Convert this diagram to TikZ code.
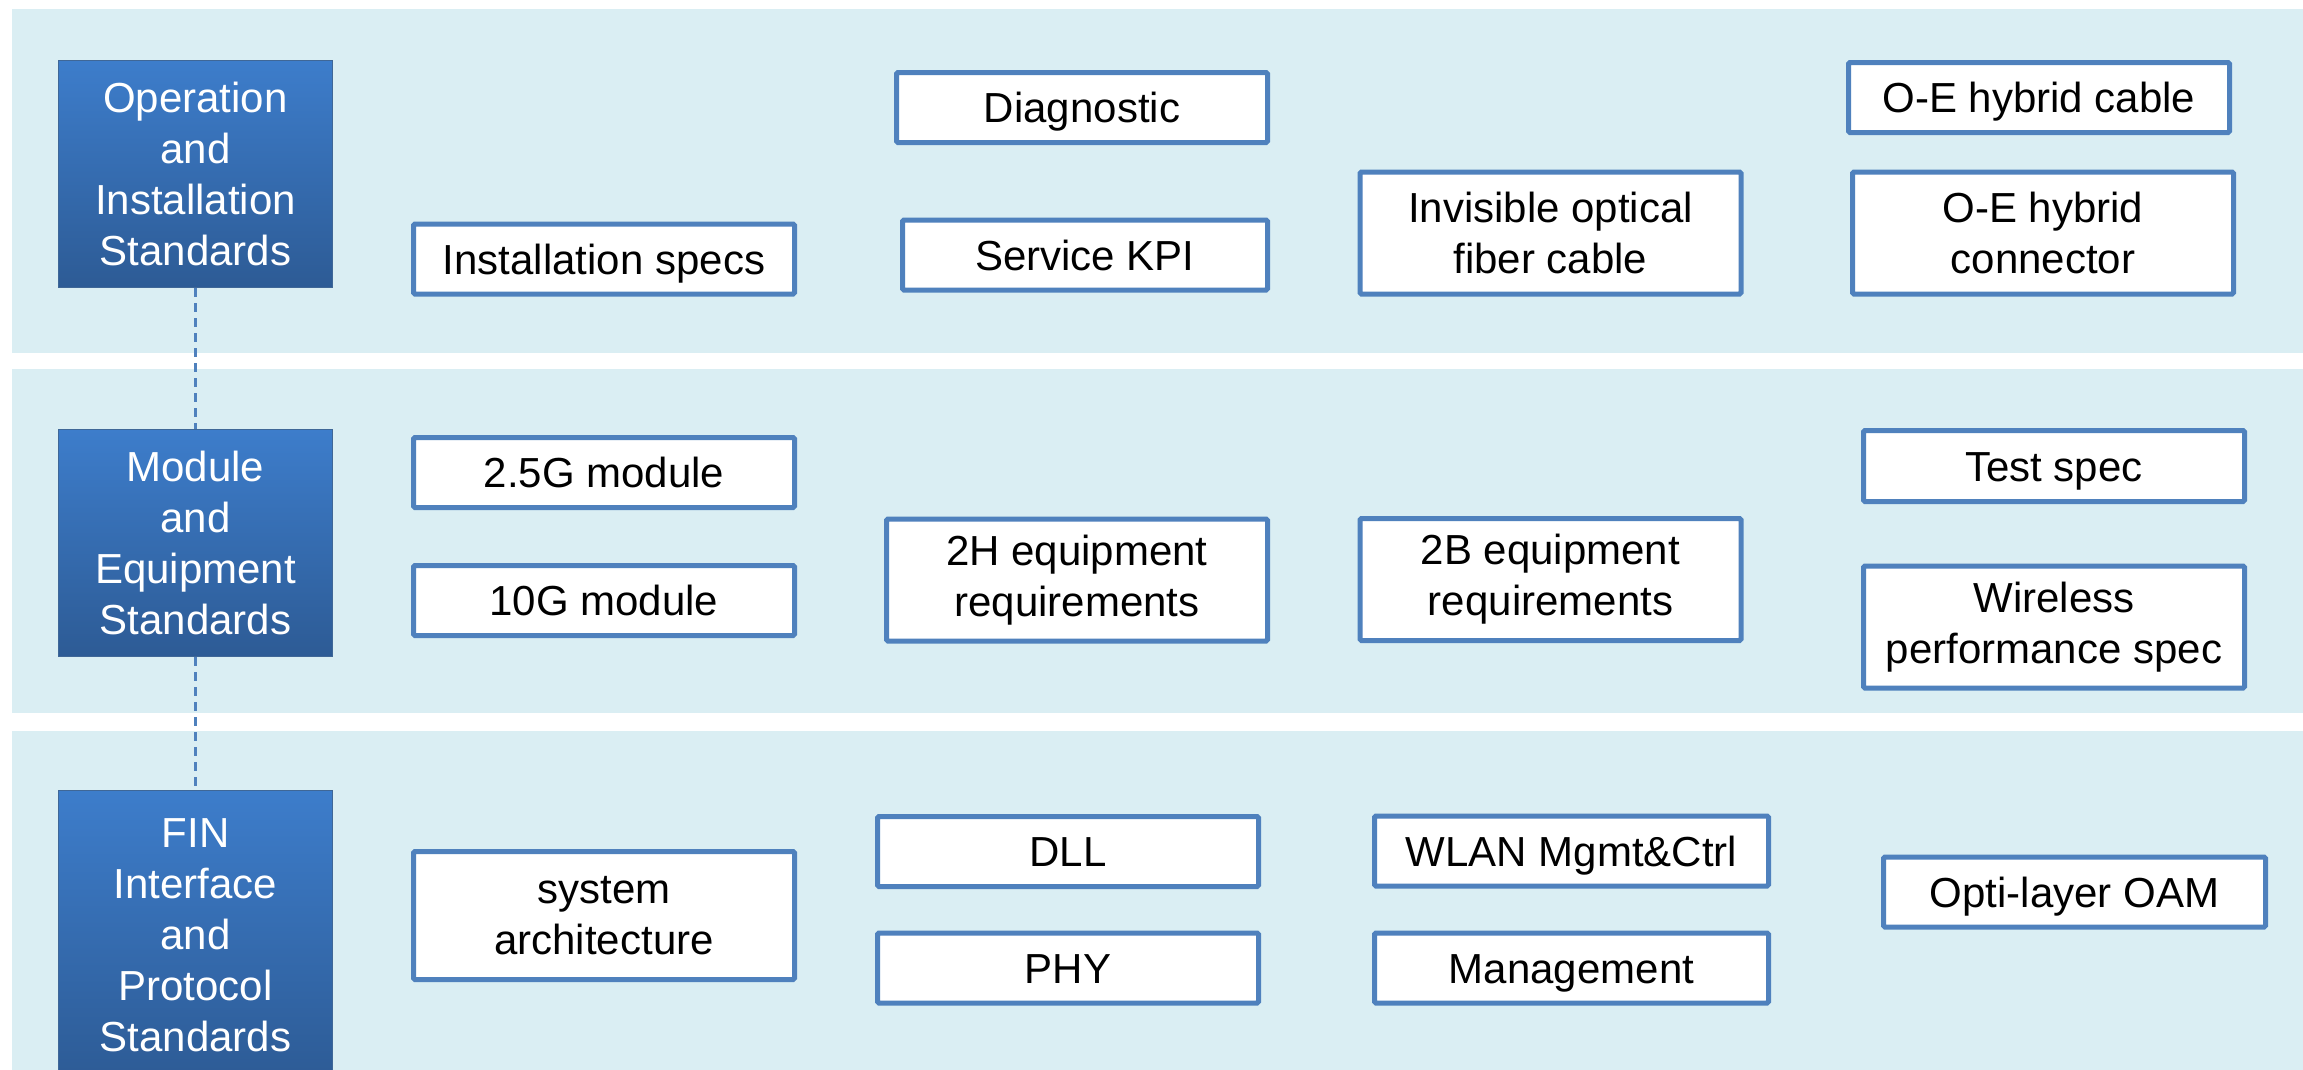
\documentclass[tikz,border=0pt]{standalone}
\usepackage{fontspec}
\setmainfont{Liberation Sans}

\definecolor{panelblue}{HTML}{DAEEF3}
\definecolor{specline}{HTML}{4F81BD}
\definecolor{stdtop}{HTML}{3D7DCB}
\definecolor{stdbottom}{HTML}{2D5B95}

\begin{document}
\begin{tikzpicture}[
    x=1pt, y=-1pt,
    every node/.style={font=\fontsize{42}{51}\selectfont, align=center, inner sep=0pt},
    panel/.style={fill=panelblue},
    standard/.style={top color=stdtop, bottom color=stdbottom, draw=specline!80!black,
        line width=1pt, text=white, minimum width=274pt, minimum height=227pt},
    spec/.style={draw=specline, fill=white, text=black, line width=5pt, rounded corners=1.5pt,
        minimum width=381pt, minimum height=70pt, text height=30pt, text depth=0pt},
    tallspec/.style={spec, minimum height=122pt, text height=, text depth=},
    link/.style={draw=specline, line width=2.5pt, dash pattern=on 9pt off 6pt}
    ]
    \useasboundingbox (0,0) rectangle (2303,1069);

    %% Background bands
    \fill[panel] (12,9) rectangle (2303,353);
    \fill[panel] (12,369) rectangle (2303,713);
    \fill[panel] (12,731) rectangle (2303,1090);

    %% Standard categories
    \node[standard](ops) at (195.5,174) {Operation\\and\\Installation\\Standards};
    \node[standard](mod) at (195.5,543) {Module\\and\\Equipment\\Standards};
    \node[standard, minimum height=290pt](fin) at (195.5,935) {FIN\\Interface\\and\\Protocol\\Standards};
    \draw[link] (ops) -- (mod);
    \draw[link] (mod) -- (fin);

    %% Operation and installation
    \node[spec](inst) at (604,259) {Installation specs};
    \node[spec, minimum width=371pt](diag) at (1082,107.5) {Diagnostic};
    \node[spec, minimum width=365pt](kpi) at (1085,255) {Service KPI};
    \node[tallspec](fiber) at (1550.5,233) {Invisible optical\\fiber cable};
    \node[spec](oecable) at (2039,97.5) {O-E hybrid cable};
    \node[tallspec](oeconn) at (2043,233) {O-E hybrid\\connector};

    %% Module and equipment
    \node[spec](mod25) at (604,472.5) {2.5G module};
    \node[spec](mod10) at (604,600.5) {10G module};
    \node[tallspec](eq2h) at (1077,580) {2H equipment\\requirements};
    \node[tallspec](eq2b) at (1550.5,579.5) {2B equipment\\requirements};
    \node[spec, minimum height=71pt](test) at (2054,466) {Test spec};
    \node[tallspec](wireless) at (2054,627) {Wireless\\performance spec};

    %% FIN interface and protocol
    \node[tallspec, minimum height=128pt](sysarch) at (604,915.5) {system\\architecture};
    \node[spec](dll) at (1068,851.5) {DLL};
    \node[spec](phy) at (1068,968) {PHY};
    \node[spec, minimum width=394pt](wlan) at (1571.5,851) {WLAN Mgmt\&Ctrl};
    \node[spec, minimum width=394pt](mgmt) at (1571.5,968) {Management};
    \node[spec, minimum width=382pt](oam) at (2074.5,892) {Opti-layer OAM};
\end{tikzpicture}
\end{document}
